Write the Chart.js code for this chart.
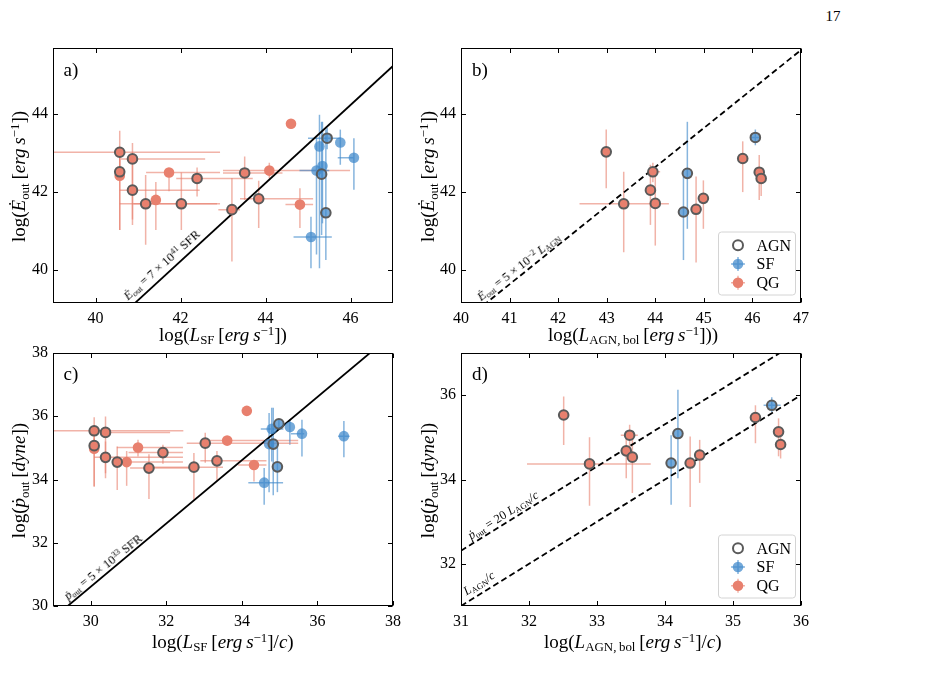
<!DOCTYPE html>
<html><head><meta charset="utf-8">
<script src="https://cdn.jsdelivr.net/npm/chart.js@4.4.1/dist/chart.umd.min.js"></script>
<style>
html,body{margin:0;padding:0;background:#fff;}
body{width:925px;height:678px;overflow:hidden;position:relative;font-family:'Liberation Serif','Times New Roman',serif;color:#000;}
canvas{position:absolute;}
.t{position:absolute;white-space:nowrap;line-height:1;transform-origin:center center;}
.t sub{font-size:68%;position:relative;top:0.28em;vertical-align:baseline;line-height:0;}
.t sup{font-size:68%;position:relative;top:-0.45em;vertical-align:baseline;line-height:0;}
.ax{font-size:19px;}
.an{font-size:12.5px;}
</style>
</head><body>
<script>
const FONT="'Liberation Serif','Times New Roman',serif";
const SALMON='rgb(232,128,110)';
const SALMON_BAR='rgba(232,128,110,0.6)';
const BLUE='rgba(62,136,202,0.72)';
const BLUE_BAR='rgba(62,136,202,0.62)';
const EDGE='rgb(90,90,90)';

// each point: [x, y, xlo, xhi, ylo, yhi]
// ---- panel a : log E_out vs log L_SF
const aQG=[[41.73,42.50,41.19,42.93,42.02,42.62],[41.42,41.80,41.42,41.42,41.03,42.26],[44.09,42.55,43.00,45.99,42.35,42.75],[44.60,43.75,44.60,44.60,43.62,43.85],[44.81,41.68,44.47,45.12,41.08,42.10],[40.57,42.42,40.57,40.57,41.03,42.90]];
const aQGagn=[[40.57,43.02,39.00,42.93,42.50,43.57],[40.87,42.85,40.60,42.58,41.16,43.26],[40.57,42.52,40.57,40.57,41.03,42.90],[40.87,42.05,40.57,42.45,41.30,42.70],[41.18,41.70,40.57,42.86,40.65,42.44],[42.02,41.70,40.89,42.93,41.03,42.50],[42.39,42.35,41.90,43.70,41.89,42.63],[43.21,41.55,42.89,43.40,40.22,42.36],[43.51,42.49,43.00,44.40,41.80,42.91],[43.84,41.83,43.40,45.12,41.08,42.29]];
const aSF=[[45.27,43.17,45.27,45.27,40.05,43.98],[45.76,43.27,45.76,45.76,42.70,43.60],[46.08,42.88,45.70,46.08,42.06,43.38],[45.34,42.67,45.34,45.34,41.20,43.80],[45.20,42.55,44.80,45.50,40.40,43.40],[45.07,40.85,44.66,45.56,40.05,41.37]];
const aSFagn=[[45.45,43.38,45.00,45.76,43.10,43.65],[45.32,42.46,45.32,45.32,40.90,43.80],[45.42,41.47,45.42,45.42,40.26,43.60]];
// ---- panel b : log E_out vs log L_AGN
const bQGagn=[[42.99,43.03,42.99,42.99,42.10,43.60],[43.35,41.70,42.44,44.28,40.46,42.52],[43.90,42.05,43.90,43.90,41.16,42.70],[43.95,42.52,43.85,44.10,42.25,42.75],[44.00,41.71,44.00,44.00,40.63,42.60],[44.84,41.56,44.84,44.84,40.20,42.40],[44.99,41.84,44.99,44.99,41.06,42.30],[45.80,42.86,45.80,45.80,42.00,43.30],[46.14,42.51,46.14,46.14,41.80,42.95],[46.18,42.35,46.18,46.18,41.90,42.60]];
const bSFagn=[[44.58,41.49,44.58,44.58,40.26,42.40],[44.66,42.48,44.66,44.66,41.06,43.80],[46.06,43.40,45.95,46.15,43.20,43.60]];
// ---- panel c : log p_out vs log L_SF/c
const cQG=[[30.09,34.97,30.09,30.09,33.78,35.30],[30.95,34.55,30.95,30.95,33.80,34.90],[31.25,35.01,30.69,32.44,34.73,35.26],[33.61,35.23,33.00,35.49,35.23,35.23],[34.13,36.17,34.13,34.13,36.10,36.25],[34.32,34.46,33.90,34.65,33.94,34.57]];
const cQGagn=[[30.09,35.54,29.00,32.45,35.10,35.97],[30.39,35.49,30.39,32.10,34.04,35.99],[30.09,35.07,30.09,30.09,33.78,35.50],[30.39,34.70,30.09,32.44,34.20,35.20],[30.70,34.55,30.70,32.44,33.67,35.04],[31.54,34.36,31.04,32.70,33.38,34.80],[31.91,34.85,31.00,32.44,34.50,35.10],[32.73,34.39,31.66,33.50,33.36,34.84],[33.03,35.15,32.54,35.49,34.53,35.48],[33.34,34.59,32.90,34.65,33.97,34.90]];
const cSF=[[34.79,35.60,34.50,35.10,34.57,36.27],[35.27,35.66,35.27,35.27,35.10,35.90],[35.59,35.45,35.30,35.65,34.73,35.89],[36.70,35.37,36.55,36.85,34.70,35.85],[34.72,35.12,34.72,34.72,33.60,36.10],[34.59,33.90,34.17,35.09,33.20,34.36]];
const cSFagn=[[34.98,35.76,34.98,34.98,35.60,35.90],[34.83,35.12,34.83,34.83,33.50,36.27],[34.94,34.40,34.94,34.94,33.60,35.10]];
// ---- panel d : log p_out vs log L_AGN/c
const dQGagn=[[32.51,35.53,32.45,32.57,34.82,35.97],[32.89,34.37,31.97,33.79,33.38,35.00],[33.43,34.68,33.43,33.43,34.03,35.01],[33.48,35.05,33.35,33.60,34.60,35.30],[33.52,34.53,33.52,33.52,33.68,35.00],[34.37,34.39,34.37,34.37,33.35,35.02],[34.51,34.58,34.51,34.51,33.92,34.94],[35.33,35.47,35.33,35.33,34.86,35.76],[35.67,35.13,35.67,35.67,34.55,35.45],[35.70,34.83,35.65,35.75,34.50,35.00]];
const dSFagn=[[34.09,34.39,34.09,34.09,33.40,35.05],[34.19,35.09,34.19,34.19,34.03,36.13],[35.57,35.76,35.45,35.70,35.60,35.95]];

// axes ranges and ticks
const aXRange=[39,47], aYRange=[39.16,45.69], aXTicks=[40,42,44,46], aYTicks=[40,42,44];
const bXRange=[40,47], bYRange=[39.16,45.69], bXTicks=[40,41,42,43,44,45,46,47], bYTicks=[40,42,44];
const cXRange=[29,38], cYRange=[30,38], cXTicks=[30,32,34,36,38], cYTicks=[30,32,34,36,38];
const dXRange=[31,36], dYRange=[31,37], dXTicks=[31,32,33,34,35,36], dYTicks=[32,34,36];
// reference relations (log offsets, y = x + offset)
const aLineOffsets=[-1.77], bLineOffsets=[-1.36], cLineOffsets=[0.61], dLineOffsets=[1.31,0];

const legendLabels=['AGN','SF','QG'];

function toPts(arr){return arr.map(p=>({x:p[0],y:p[1],e:p.slice(2)}));}

const errPlugin={id:'errbars',beforeDatasetsDraw(chart){
  const ctx=chart.ctx,xs=chart.scales.x,ys=chart.scales.y,a=chart.chartArea;
  ctx.save();ctx.beginPath();ctx.rect(a.left,a.top,a.right-a.left,a.bottom-a.top);ctx.clip();
  chart.data.datasets.forEach(ds=>{
    if(!ds.errColor)return;
    ctx.strokeStyle=ds.errColor;ctx.lineWidth=1.5;
    ds.data.forEach(p=>{
      const [xl,xh,yl,yh]=p.e;const px=xs.getPixelForValue(p.x),py=ys.getPixelForValue(p.y);
      ctx.beginPath();
      if(xl!==xh){ctx.moveTo(xs.getPixelForValue(xl),py);ctx.lineTo(xs.getPixelForValue(xh),py);}
      if(yl!==yh){ctx.moveTo(px,ys.getPixelForValue(yl));ctx.lineTo(px,ys.getPixelForValue(yh));}
      ctx.stroke();
    });
  });
  ctx.restore();
}};

const framePlugin={id:'frame',afterDraw(chart){
  const ctx=chart.ctx,a=chart.chartArea,xs=chart.scales.x,ys=chart.scales.y;
  ctx.save();ctx.strokeStyle='#000';ctx.lineWidth=1;
  const L=Math.round(a.left)+0.5,R=Math.round(a.right)-0.5,T=Math.round(a.top)+0.5,B=Math.round(a.bottom)-0.5;
  ctx.strokeRect(L,T,R-L,B-T);
  const tl=4.5;ctx.beginPath();
  xs.ticks.forEach(t=>{const x=Math.round(xs.getPixelForValue(t.value))+0.5;ctx.moveTo(x,B);ctx.lineTo(x,B-tl);ctx.moveTo(x,T);ctx.lineTo(x,T+tl);});
  ys.ticks.forEach(t=>{const y=Math.round(ys.getPixelForValue(t.value))+0.5;ctx.moveTo(L,y);ctx.lineTo(L+tl,y);ctx.moveTo(R,y);ctx.lineTo(R-tl,y);});
  ctx.stroke();
  const lg=chart.options.plugins.frame&&chart.options.plugins.frame.legend;
  if(lg){
    const w=77,h=63,x0=a.right-6-w,y0=a.bottom-8.5-h;
    ctx.beginPath();ctx.roundRect(x0+0.5,y0+0.5,w,h,3);ctx.fillStyle='rgba(255,255,255,0.85)';ctx.fill();ctx.strokeStyle='#d4d4d4';ctx.lineWidth=1;ctx.stroke();
    const rows=[13.8,32.5,51.2];const mx=x0+20,tx=x0+38.5;
    ctx.font='16px '+FONT;ctx.textBaseline='middle';ctx.textAlign='left';
    legendLabels.forEach((lab,i)=>{
      const y=y0+rows[i];
      if(i===0){ctx.beginPath();ctx.arc(mx,y,5,0,Math.PI*2);ctx.fillStyle='#fff';ctx.fill();ctx.strokeStyle=EDGE;ctx.lineWidth=2;ctx.stroke();}
      else{
        const bar=i===1?BLUE_BAR:SALMON_BAR,fill=i===1?BLUE:SALMON;
        ctx.beginPath();ctx.moveTo(mx-7,y);ctx.lineTo(mx+7,y);ctx.moveTo(mx,y-7);ctx.lineTo(mx,y+7);ctx.strokeStyle=bar;ctx.lineWidth=1.5;ctx.stroke();
        ctx.beginPath();ctx.arc(mx,y,5.3,0,Math.PI*2);ctx.fillStyle=fill;ctx.fill();
      }
      ctx.fillStyle='#000';ctx.fillText(lab,tx,y+1);
    });
  }
  ctx.restore();
}};

function scatterSet(arr,fill,edge,bar,order){
  return {data:toPts(arr),backgroundColor:fill,borderColor:edge||fill,borderWidth:edge?2:0,pointRadius:edge?4.8:5.3,pointHoverRadius:edge?4.8:5.3,errColor:bar,order:order};
}

function makePanel(o){
  const cv=document.createElement('canvas');
  cv.width=o.cw;cv.height=o.ch;cv.style.left=o.cl+'px';cv.style.top=o.ct+'px';cv.style.width=o.cw+'px';cv.style.height=o.ch+'px';
  document.body.appendChild(cv);
  const ds=[];
  o.lines.forEach((off,i)=>ds.push({data:[{x:o.xr[0],y:o.xr[0]+off},{x:o.xr[1],y:o.xr[1]+off}],showLine:true,pointRadius:0,borderColor:'#000',borderWidth:1.8,borderDash:o.dash?[6,3.5]:[],clip:0,order:10}));
  if(o.qg)ds.push(scatterSet(o.qg,SALMON,null,SALMON_BAR,4));
  if(o.sf)ds.push(scatterSet(o.sf,BLUE,null,BLUE_BAR,3));
  ds.push(scatterSet(o.qgAgn,SALMON,EDGE,SALMON_BAR,2));
  ds.push(scatterSet(o.sfAgn,BLUE,EDGE,BLUE_BAR,1));
  const box=o.box;
  new Chart(cv,{type:'scatter',data:{datasets:ds},
    options:{responsive:false,animation:false,devicePixelRatio:1,events:[],
      layout:{padding:{left:0,top:box.top-o.ct,right:o.cl+o.cw-box.right,bottom:0}},
      plugins:{legend:{display:false},tooltip:{enabled:false},frame:{legend:o.legend}},
      scales:{
        x:{type:'linear',min:o.xr[0],max:o.xr[1],grid:{display:false,drawTicks:false},border:{display:false},
          ticks:{color:'#000',font:{family:FONT,size:16},padding:6,maxRotation:0,autoSkip:false},
          afterBuildTicks:s=>{s.ticks=o.xt.map(v=>({value:v}));},
          afterFit:s=>{s.height=o.ct+o.ch-box.bottom;}},
        y:{type:'linear',min:o.yr[0],max:o.yr[1],grid:{display:false,drawTicks:false},border:{display:false},
          ticks:{color:'#000',font:{family:FONT,size:16},padding:5,autoSkip:false},
          afterBuildTicks:s=>{s.ticks=o.yt.map(v=>({value:v}));},
          afterFit:s=>{s.width=box.left-o.cl;}}
      }},
    plugins:[errPlugin,framePlugin]});
}

makePanel({cl:0,ct:30,cw:420,ch:300,box:{left:53,top:48,right:393,bottom:303},xr:aXRange,yr:aYRange,xt:aXTicks,yt:aYTicks,qg:aQG,qgAgn:aQGagn,sf:aSF,sfAgn:aSFagn,lines:aLineOffsets,dash:false,legend:false});
makePanel({cl:420,ct:30,cw:420,ch:300,box:{left:461,top:48,right:801,bottom:303},xr:bXRange,yr:bYRange,xt:bXTicks,yt:bYTicks,qgAgn:bQGagn,sfAgn:bSFagn,lines:bLineOffsets,dash:true,legend:true});
makePanel({cl:0,ct:335,cw:420,ch:300,box:{left:53,top:353,right:393,bottom:606},xr:cXRange,yr:cYRange,xt:cXTicks,yt:cYTicks,qg:cQG,qgAgn:cQGagn,sf:cSF,sfAgn:cSFagn,lines:cLineOffsets,dash:false,legend:false});
makePanel({cl:420,ct:335,cw:420,ch:300,box:{left:461,top:353,right:801,bottom:606},xr:dXRange,yr:dYRange,xt:dXTicks,yt:dYTicks,qgAgn:dQGagn,sfAgn:dSFagn,lines:dLineOffsets,dash:true,legend:true});

// text labels
function addText(html,cls,cx,cy,rot,size){
  const d=document.createElement('div');d.className='t '+cls;d.innerHTML=html;
  if(size)d.style.fontSize=size+'px';
  document.body.appendChild(d);
  const w=d.offsetWidth,h=d.offsetHeight;
  d.style.left=(cx-w/2)+'px';d.style.top=(cy-h/2)+'px';
  if(rot)d.style.transform='rotate('+rot+'deg)';
}
const unitE='[<i>erg</i>&#8201;<i>s</i><sup>&minus;1</sup>]';
addText('log(<i>L</i><sub>SF</sub>&#8201;'+unitE+')','ax',223,334,0);
addText('log(<i>L</i><sub>AGN,&#8201;bol</sub>&#8201;'+unitE+'))','ax',633,334,0);
addText('log(<i>L</i><sub>SF</sub>&#8201;'+unitE+'/<i>c</i>)','ax',223,641,0);
addText('log(<i>L</i><sub>AGN,&#8201;bol</sub>&#8201;'+unitE+'/<i>c</i>)','ax',633,641,0);
addText('log(<i>&#278;</i><sub>out</sub>&#8201;'+unitE+')','ax',18,176,-90);
addText('log(<i>&#278;</i><sub>out</sub>&#8201;'+unitE+')','ax',427,176,-90);
addText('log(<i>&#7767;</i><sub>out</sub>&#8201;[<i>dyne</i>])','ax',18,480,-90);
addText('log(<i>&#7767;</i><sub>out</sub>&#8201;[<i>dyne</i>])','ax',427,480,-90);
addText('a)','ax',71,69,0);
addText('b)','ax',480,69,0);
addText('c)','ax',71,373,0);
addText('d)','ax',480,373,0);
addText('<i>&#278;</i><sub>out</sub> = 7 &times; 10<sup>41</sup> SFR','an',162,265,-42);
addText('<i>&#278;</i><sub>out</sub> = 5 &times; 10<sup>&minus;2</sup> <i>L</i><sub>AGN</sub>','an',518,267,-38);
addText('<i>&#7767;</i><sub>out</sub> = 5 &times; 10<sup>33</sup> SFR','an',103,567,-39);
addText('<i>&#7767;</i><sub>out</sub> = 20 <i>L</i><sub>AGN</sub>/<i>c</i>','an',503,515,-32);
addText('<i>L</i><sub>AGN</sub>/<i>c</i>','an',479,583,-32);
addText('17','ax',833,16,0,15);
</script>
</body></html>
